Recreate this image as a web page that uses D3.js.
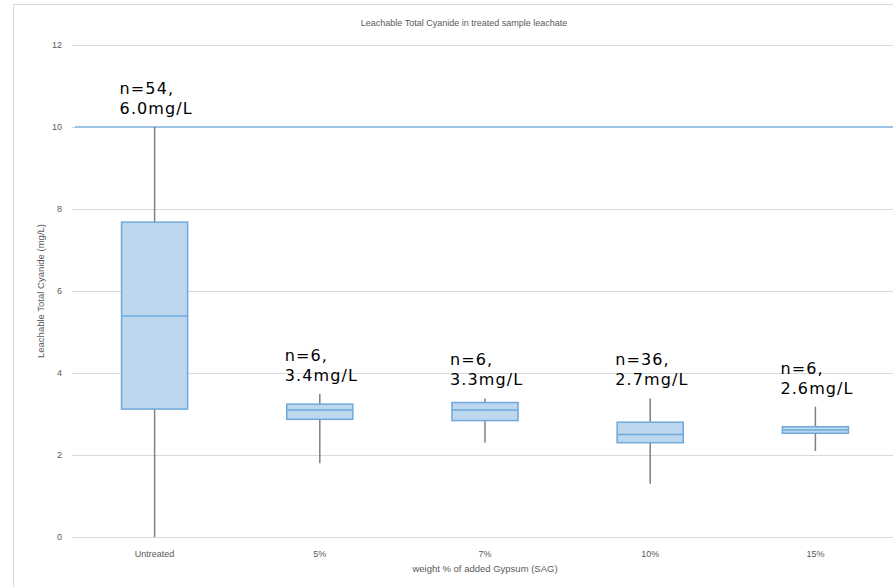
<!DOCTYPE html>
<html>
<head>
<meta charset="utf-8">
<script src="https://cdn.jsdelivr.net/npm/d3@7"></script>
<style>
  body { margin: 0; background: #fff; }
  svg { display: block; }
  .small { font-family: "Liberation Sans", Arial, sans-serif; fill: #595959; }
  .note { font-family: "DejaVu Sans", Verdana, sans-serif; fill: #000; }
</style>
</head>
<body>
<div id="chart"></div>
<script>
// box plot values (mg/L)
const categories = ['Untreated', '5%', '7%', '10%', '15%'];
const whiskerLow = [0, 1.8, 2.3, 1.3, 2.1];
const q1 = [3.12, 2.87, 2.84, 2.3, 2.53];
const median = [5.39, 3.1, 3.1, 2.5, 2.61];
const q3 = [7.68, 3.24, 3.28, 2.8, 2.69];
const whiskerHigh = [10, 3.49, 3.38, 3.38, 3.18];
const counts = [54, 6, 6, 36, 6];
const means = ['6.0', '3.4', '3.3', '2.7', '2.6'];
const yTicks = [0, 2, 4, 6, 8, 10, 12];
const limit = 10;

const width = 893;
const height = 587;
const margin = { top: 45, right: -5, bottom: 50, left: 72 };

const svg = d3.select('#chart')
  .append('svg')
  .attr('width', width)
  .attr('height', height);

// chart border
svg.append('rect')
  .attr('x', 13.5)
  .attr('y', 4.5)
  .attr('width', 920)
  .attr('height', 620)
  .attr('fill', 'none')
  .attr('stroke', '#d9d9d9');

const x = d3.scaleBand()
  .domain(categories)
  .range([margin.left, width - margin.right]);

const y = d3.scaleLinear()
  .domain([0, 12])
  .range([height - margin.bottom, margin.top]);

// gridlines + tick labels
const yAxis = svg.append('g')
  .attr('transform', `translate(${margin.left},0)`)
  .call(d3.axisLeft(y).tickValues(yTicks).tickSize(-(width - margin.left - margin.right)).tickPadding(10));
yAxis.select('.domain').remove();
yAxis.selectAll('.tick line').attr('stroke', '#d9d9d9');
yAxis.selectAll('.tick text')
  .attr('class', 'small')
  .style('font-size', '9px')
  .attr('fill', '#595959');

const xAxis = svg.append('g')
  .attr('transform', `translate(0,${y(0)})`)
  .call(d3.axisBottom(x).tickSize(0).tickPadding(14));
xAxis.select('.domain').remove();
xAxis.selectAll('.tick text')
  .attr('class', 'small')
  .style('font-size', '9px')
  .attr('fill', '#595959');

// limit line
svg.append('line')
  .attr('x1', margin.left + 3)
  .attr('x2', width)
  .attr('y1', y(limit))
  .attr('y2', y(limit))
  .attr('stroke', '#9dc3e6')
  .attr('stroke-width', 2);

const boxes = categories.map((c, i) => ({
  cat: c, lo: whiskerLow[i], q1: q1[i], med: median[i], q3: q3[i], hi: whiskerHigh[i],
  n: counts[i], mean: means[i]
}));

const boxW = x.bandwidth() * 0.4;

const g = svg.selectAll('.box')
  .data(boxes)
  .enter()
  .append('g')
  .attr('class', 'box')
  .attr('transform', d => `translate(${x(d.cat) + x.bandwidth() / 2},0)`);

// whiskers
g.append('line')
  .attr('y1', d => y(d.hi))
  .attr('y2', d => y(d.q3))
  .attr('stroke', '#7f7f7f')
  .attr('stroke-width', 1.5);
g.append('line')
  .attr('y1', d => y(d.q1))
  .attr('y2', d => y(d.lo))
  .attr('stroke', '#7f7f7f')
  .attr('stroke-width', 1.5);

g.append('rect')
  .attr('x', -boxW / 2)
  .attr('width', boxW)
  .attr('y', d => y(d.q3))
  .attr('height', d => y(d.q1) - y(d.q3))
  .attr('fill', '#bdd7ee')
  .attr('stroke', '#6fa8dc')
  .attr('stroke-width', 1.5);

g.append('line')
  .attr('x1', -boxW / 2)
  .attr('x2', boxW / 2)
  .attr('y1', d => y(d.med))
  .attr('y2', d => y(d.med))
  .attr('stroke', '#6fa8dc')
  .attr('stroke-width', 1.5);

// n / mean notes
const note = g.append('text')
  .attr('class', 'note')
  .style('font-size', '16px')
  .style('letter-spacing', '1.1px');
note.append('tspan')
  .attr('x', -35)
  .attr('y', d => y(d.hi) - 33)
  .text(d => `n=${d.n},`);
note.append('tspan')
  .attr('x', -35)
  .attr('y', d => y(d.hi) - 13)
  .text(d => `${d.mean}mg/L`);

// titles
svg.append('text')
  .attr('class', 'small')
  .attr('x', 464)
  .attr('y', 26)
  .attr('text-anchor', 'middle')
  .style('font-size', '9px')
  .text('Leachable Total Cyanide in treated sample leachate');

svg.append('text')
  .attr('class', 'small')
  .attr('x', (margin.left + width - margin.right) / 2)
  .attr('y', 572)
  .attr('text-anchor', 'middle')
  .style('font-size', '9.5px')
  .text('weight % of added Gypsum (SAG)');

svg.append('text')
  .attr('class', 'small')
  .attr('transform', `translate(44,${(y(0) + y(12)) / 2}) rotate(-90)`)
  .attr('text-anchor', 'middle')
  .style('font-size', '9.5px')
  .text('Leachable Total Cyanide (mg/L)');
</script>
</body>
</html>
